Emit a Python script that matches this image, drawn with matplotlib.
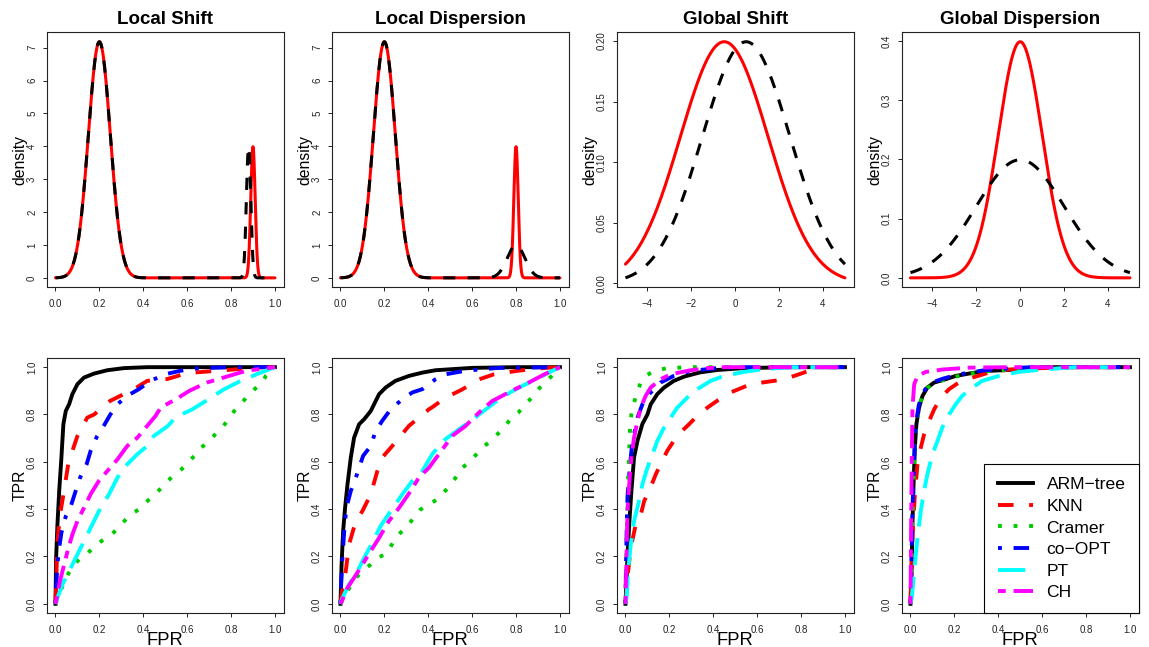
import numpy as np
import matplotlib
matplotlib.use('Agg')
import matplotlib.pyplot as plt

plt.rcParams['font.family'] = ['Liberation Sans', 'DejaVu Sans']

# ---------------- data ----------------
titles = ['Local Shift', 'Local Dispersion', 'Global Shift', 'Global Dispersion']

# top row: gaussian mixtures (weights, means, sds)
dens_xrange = [(0, 1), (0, 1), (-5, 5), (-5, 5)]
ls_w, ls_mu_red, ls_mu_blk, ls_sd_red, ls_sd_blk = [0.9, 0.1], [0.2, 0.9], [0.2, 0.88], [0.05, 0.01], [0.05, 0.01]
ld_w, ld_mu_red, ld_mu_blk, ld_sd_red, ld_sd_blk = [0.9, 0.1], [0.2, 0.8], [0.2, 0.8], [0.05, 0.01], [0.05, 0.04]
gs_w, gs_mu_red, gs_mu_blk, gs_sd_red, gs_sd_blk = [1.0], [-0.5], [0.5], [2.0], [2.0]
gd_w, gd_mu_red, gd_mu_blk, gd_sd_red, gd_sd_blk = [1.0], [0.0], [0.0], [1.0], [2.0]

dens_yticks = [list(range(8)), list(range(8)), [0, 0.05, 0.10, 0.15, 0.20], [0, 0.1, 0.2, 0.3, 0.4]]
dens_xticks = [[0, 0.2, 0.4, 0.6, 0.8, 1.0], [0, 0.2, 0.4, 0.6, 0.8, 1.0], [-4, -2, 0, 2, 4], [-4, -2, 0, 2, 4]]

methods = ['ARM\u2212tree', 'KNN', 'Cramer', 'co\u2212OPT', 'PT', 'CH']

# ROC curves (fpr, tpr)
ls_arm = [(0,0),(0.003,0.195),(0.009,0.336),(0.017,0.477),(0.027,0.618),(0.036,0.759),(0.047,0.815),(0.062,0.843),(0.077,0.886),(0.1,0.928),(0.13,0.956),(0.176,0.973),(0.236,0.987),(0.312,0.996),(0.418,1.0),(1,1)]
ls_knn = [(0,0),(0.003,0.082),(0.009,0.265),(0.021,0.378),(0.039,0.477),(0.058,0.59),(0.077,0.646),(0.1,0.709),(0.145,0.787),(0.176,0.80),(0.25,0.858),(0.357,0.907),(0.418,0.942),(0.51,0.95),(0.6,0.975),(0.81,0.99),(0.95,1.0),(1,1)]
ls_cramer = [(0,0),(0.03,0.07),(0.06,0.13),(0.09,0.17),(0.11,0.19),(0.147,0.214),(0.18,0.245),(0.214,0.268),(0.25,0.29),(0.283,0.316),(0.314,0.35),(0.345,0.38),(0.383,0.4),(0.412,0.43),(0.447,0.454),(0.477,0.485),(0.508,0.515),(0.54,0.545),(0.576,0.57),(0.606,0.6),(0.636,0.628),(0.664,0.66),(0.697,0.685),(0.727,0.715),(0.758,0.743),(0.788,0.779),(0.814,0.814),(0.844,0.842),(0.871,0.874),(0.905,0.905),(0.94,0.934),(0.96,0.965),(1,1)]
ls_coopt = [(0,0),(0.003,0.068),(0.009,0.166),(0.017,0.237),(0.027,0.3),(0.047,0.37),(0.07,0.413),(0.092,0.477),(0.112,0.533),(0.142,0.59),(0.16,0.646),(0.19,0.709),(0.22,0.752),(0.25,0.80),(0.282,0.843),(0.327,0.879),(0.38,0.907),(0.433,0.942),(0.5,0.97),(0.57,0.985),(0.65,0.995),(0.8,1.0),(1,1)]
ls_pt = [(0,0),(0.009,0.025),(0.032,0.082),(0.062,0.138),(0.1,0.209),(0.138,0.279),(0.168,0.336),(0.206,0.406),(0.244,0.463),(0.282,0.533),(0.327,0.59),(0.373,0.632),(0.418,0.667),(0.448,0.709),(0.51,0.75),(0.55,0.79),(0.62,0.82),(0.69,0.86),(0.765,0.905),(0.84,0.94),(0.93,0.975),(1,1)]
ls_ch = [(0,0),(0.006,0.025),(0.017,0.082),(0.032,0.138),(0.055,0.223),(0.077,0.293),(0.1,0.35),(0.13,0.406),(0.16,0.463),(0.198,0.52),(0.236,0.561),(0.282,0.61),(0.327,0.667),(0.373,0.702),(0.418,0.752),(0.456,0.794),(0.48,0.83),(0.55,0.865),(0.61,0.9),(0.69,0.935),(0.78,0.96),(0.87,0.985),(1,1)]

ld_arm = [(0,0),(0.005,0.166),(0.012,0.307),(0.021,0.406),(0.032,0.505),(0.047,0.618),(0.062,0.702),(0.085,0.759),(0.108,0.78),(0.138,0.815),(0.153,0.843),(0.176,0.886),(0.206,0.914),(0.25,0.942),(0.312,0.963),(0.373,0.977),(0.433,0.987),(0.6,0.997),(0.8,1),(1,1)]
ld_knn = [(0,0),(0.003,0.025),(0.012,0.082),(0.024,0.138),(0.039,0.251),(0.07,0.35),(0.1,0.392),(0.138,0.463),(0.168,0.561),(0.19,0.618),(0.236,0.667),(0.312,0.752),(0.403,0.822),(0.417,0.83),(0.477,0.87),(0.553,0.905),(0.63,0.948),(0.7,0.97),(0.81,0.985),(0.93,0.997),(1,1)]
ld_cramer = [(0,0),(0.06,0.1),(0.106,0.144),(0.136,0.165),(0.167,0.193),(0.212,0.214),(0.242,0.264),(0.273,0.3),(0.303,0.327),(0.333,0.362),(0.364,0.398),(0.4,0.42),(0.44,0.44),(0.47,0.47),(0.5,0.5),(0.53,0.54),(0.553,0.574),(0.583,0.595),(0.614,0.626),(0.644,0.659),(0.674,0.68),(0.705,0.708),(0.742,0.74),(0.773,0.779),(0.81,0.807),(0.84,0.842),(0.871,0.87),(0.9,0.905),(0.93,0.934),(0.962,0.962),(1,1)]
ld_coopt = [(0,0),(0.003,0.082),(0.009,0.195),(0.017,0.307),(0.027,0.406),(0.047,0.477),(0.07,0.533),(0.085,0.575),(0.103,0.625),(0.138,0.667),(0.16,0.73),(0.19,0.773),(0.229,0.822),(0.274,0.858),(0.327,0.893),(0.373,0.907),(0.433,0.949),(0.48,0.97),(0.57,0.985),(0.72,0.997),(1,1)]
ld_pt = [(0,0),(0.009,0.025),(0.039,0.082),(0.07,0.124),(0.108,0.195),(0.145,0.258),(0.183,0.329),(0.229,0.392),(0.282,0.463),(0.327,0.519),(0.373,0.561),(0.418,0.632),(0.456,0.674),(0.477,0.695),(0.538,0.736),(0.6,0.778),(0.66,0.82),(0.72,0.863),(0.795,0.905),(0.87,0.94),(0.947,0.976),(1,1)]
ld_ch = [(0,0),(0.006,0.011),(0.032,0.068),(0.062,0.11),(0.1,0.166),(0.138,0.223),(0.176,0.279),(0.221,0.35),(0.267,0.406),(0.32,0.477),(0.357,0.533),(0.403,0.575),(0.448,0.632),(0.51,0.71),(0.568,0.75),(0.63,0.807),(0.69,0.856),(0.78,0.9),(0.856,0.934),(0.93,0.97),(1,1)]

gs_arm = [(0,0),(0.006,0.124),(0.009,0.195),(0.017,0.336),(0.027,0.477),(0.039,0.618),(0.055,0.69),(0.077,0.76),(0.1,0.80),(0.115,0.843),(0.145,0.886),(0.176,0.914),(0.22,0.942),(0.267,0.96),(0.34,0.978),(0.418,0.988),(0.54,0.996),(0.75,1.0),(1,1)]
gs_knn = [(0,0),(0.009,0.11),(0.024,0.237),(0.047,0.336),(0.07,0.378),(0.085,0.434),(0.108,0.477),(0.138,0.547),(0.16,0.59),(0.19,0.646),(0.22,0.688),(0.25,0.724),(0.29,0.759),(0.327,0.794),(0.373,0.829),(0.418,0.858),(0.479,0.893),(0.57,0.928),(0.72,0.948),(0.81,0.976),(0.856,0.993),(0.9,1.0),(1,1)]
gs_cramer = [(0,0),(0.002,0.124),(0.005,0.25),(0.009,0.406),(0.012,0.533),(0.017,0.646),(0.021,0.745),(0.027,0.80),(0.039,0.85),(0.052,0.893),(0.07,0.935),(0.092,0.963),(0.13,0.984),(0.19,0.996),(0.297,1.0),(1,1)]
gs_coopt = [(0,0),(0.003,0.195),(0.006,0.336),(0.009,0.448),(0.017,0.547),(0.027,0.646),(0.039,0.716),(0.055,0.787),(0.077,0.843),(0.1,0.879),(0.13,0.907),(0.16,0.935),(0.22,0.963),(0.297,0.984),(0.418,0.996),(0.5,1.0),(1,1)]
gs_pt = [(0,0),(0.005,0.025),(0.012,0.138),(0.024,0.25),(0.039,0.35),(0.058,0.42),(0.077,0.505),(0.1,0.575),(0.123,0.632),(0.145,0.688),(0.176,0.745),(0.206,0.787),(0.236,0.829),(0.282,0.872),(0.327,0.907),(0.388,0.942),(0.448,0.963),(0.54,0.98),(0.615,0.99),(0.75,1.0),(1,1)]
gs_ch = [(0,0),(0.003,0.124),(0.006,0.25),(0.009,0.39),(0.017,0.505),(0.027,0.618),(0.039,0.702),(0.055,0.773),(0.07,0.83),(0.092,0.879),(0.115,0.914),(0.16,0.949),(0.206,0.97),(0.297,0.987),(0.373,0.996),(0.45,1.0),(1,1)]

gd_arm = [(0,0),(0.005,0.124),(0.009,0.336),(0.014,0.505),(0.02,0.66),(0.027,0.759),(0.039,0.829),(0.055,0.879),(0.077,0.914),(0.108,0.935),(0.16,0.949),(0.206,0.963),(0.267,0.973),(0.342,0.984),(0.5,0.99),(0.6,1.0),(1,1)]
gd_knn = [(0,0),(0.003,0.124),(0.012,0.336),(0.021,0.477),(0.032,0.59),(0.047,0.66),(0.062,0.716),(0.085,0.773),(0.108,0.822),(0.138,0.872),(0.176,0.907),(0.22,0.935),(0.282,0.956),(0.357,0.977),(0.448,0.99),(0.7,1.0),(1,1)]
gd_cramer = [(0,0),(0.005,0.13),(0.009,0.34),(0.014,0.51),(0.02,0.665),(0.027,0.762),(0.039,0.832),(0.055,0.88),(0.077,0.912),(0.108,0.933),(0.16,0.948),(0.206,0.96),(0.267,0.972),(0.342,0.982),(0.45,0.99),(0.6,1.0),(1,1)]
gd_coopt = [(0,0),(0.004,0.15),(0.008,0.35),(0.013,0.52),(0.019,0.67),(0.026,0.77),(0.038,0.84),(0.053,0.885),(0.075,0.918),(0.1,0.936),(0.15,0.952),(0.2,0.965),(0.26,0.976),(0.33,0.986),(0.45,0.995),(0.55,1.0),(1,1)]
gd_pt = [(0,0),(0.006,0.025),(0.017,0.138),(0.032,0.28),(0.047,0.392),(0.062,0.477),(0.077,0.547),(0.1,0.632),(0.123,0.688),(0.145,0.745),(0.176,0.80),(0.206,0.843),(0.236,0.879),(0.282,0.914),(0.327,0.942),(0.403,0.963),(0.494,0.98),(0.6,0.99),(0.75,1.0),(1,1)]
gd_ch = [(0,0),(0.003,0.336),(0.006,0.618),(0.009,0.829),(0.017,0.928),(0.032,0.963),(0.07,0.98),(0.145,0.99),(0.267,0.998),(0.45,1.0),(1,1)]

# ---------------- styles ----------------
# R colours / lty patterns
m_colors = ['black', '#FF0000', '#00CD00', '#0000FF', '#00FFFF', '#FF00FF']
m_dashes = [None, (4, 4), (1, 3), (1, 3, 4, 3), (7, 3), (2, 2, 6, 2)]

W, H = 1149, 647
fig = plt.figure(figsize=(W / 100, H / 100), dpi=100)

col_left = [46.7, 331.7, 616.7, 901.7]
ax_w = 237.0
top_t, top_h = 32.3, 255.0
bot_t, bot_h = 357.7, 255.6


def px_axes(l, t, w, h):
    return fig.add_axes([l / W, 1 - (t + h) / H, w / W, h / H])


def r_lim(lo, hi):
    # R style 4% padding
    d = (hi - lo) * 0.04
    return lo - d, hi + d


def mix_pdf(x, w, mu, sd):
    y = np.zeros_like(x)
    for wi, mi, si in zip(w, mu, sd):
        y += wi * np.exp(-0.5 * ((x - mi) / si) ** 2) / (si * np.sqrt(2 * np.pi))
    return y


def style_axes(ax):
    for s in ax.spines.values():
        s.set_linewidth(0.8)
        s.set_color('#222222')
    ax.tick_params(direction='out', length=2.9, width=0.7, labelsize=7.0, colors='#222222')
    ax.tick_params(axis='x', pad=5.3)
    ax.tick_params(axis='y', pad=4.0, labelrotation=90)
    for lab in ax.get_yticklabels():
        lab.set_va('center')


mix_params = [
    (ls_w, ls_mu_red, ls_mu_blk, ls_sd_red, ls_sd_blk),
    (ld_w, ld_mu_red, ld_mu_blk, ld_sd_red, ld_sd_blk),
    (gs_w, gs_mu_red, gs_mu_blk, gs_sd_red, gs_sd_blk),
    (gd_w, gd_mu_red, gd_mu_blk, gd_sd_red, gd_sd_blk),
]
roc_sets = [
    [ls_arm, ls_knn, ls_cramer, ls_coopt, ls_pt, ls_ch],
    [ld_arm, ld_knn, ld_cramer, ld_coopt, ld_pt, ld_ch],
    [gs_arm, gs_knn, gs_cramer, gs_coopt, gs_pt, gs_ch],
    [gd_arm, gd_knn, gd_cramer, gd_coopt, gd_pt, gd_ch],
]

lw_top = 2.2
lw_bot = 2.8

for i in range(4):
    # density panel
    ax = px_axes(col_left[i], top_t, ax_w, top_h)
    x0, x1 = dens_xrange[i]
    xs = np.linspace(x0, x1, 2001)
    w, mr, mb, sr, sb = mix_params[i]
    y_red = mix_pdf(xs, w, mr, sr)
    y_blk = mix_pdf(xs, w, mb, sb)
    ax.plot(xs, y_red, color='#FF0000', lw=lw_top, solid_capstyle='round')
    ax.plot(xs, y_blk, color='black', lw=lw_top, dashes=(4, 4))
    ax.set_xlim(*r_lim(x0, x1))
    ax.set_ylim(*r_lim(min(y_red.min(), y_blk.min()), max(y_red.max(), y_blk.max())))
    ax.set_xticks(dens_xticks[i])
    ax.set_yticks(dens_yticks[i])
    style_axes(ax)
    cx = col_left[i] + ax_w / 2
    fig.text(cx / W, 1 - 24.5 / H, titles[i], ha='center', va='baseline',
             fontsize=13.5, fontweight='bold')
    lab_x = col_left[i] - 22.4
    fig.text(lab_x / W, 1 - (top_t + top_h / 2) / H, 'density',
             rotation=90, rotation_mode='anchor', ha='center', va='baseline', fontsize=11.3)

    # ROC panel
    ax = px_axes(col_left[i], bot_t, ax_w, bot_h)
    for j, pts in enumerate(roc_sets[i]):
        fx = [p[0] for p in pts]
        ty = [p[1] for p in pts]
        kw = dict(color=m_colors[j], lw=lw_bot, label=methods[j])
        if m_dashes[j] is not None:
            kw['dashes'] = m_dashes[j]
        ax.plot(fx, ty, **kw)
    ax.set_xlim(*r_lim(0, 1))
    ax.set_ylim(*r_lim(0, 1))
    ax.set_xticks([0, 0.2, 0.4, 0.6, 0.8, 1.0])
    ax.set_yticks([0, 0.2, 0.4, 0.6, 0.8, 1.0])
    style_axes(ax)
    fig.text(cx / W, 1 - 645 / H, 'FPR', ha='center', va='baseline', fontsize=13.2)
    fig.text(lab_x / W, 1 - (bot_t + bot_h / 2) / H, 'TPR',
             rotation=90, rotation_mode='anchor', ha='center', va='baseline', fontsize=11.3)

    if i == 3:
        leg = ax.legend(loc='lower right', borderaxespad=0, fancybox=False, framealpha=1,
                        edgecolor='black', fontsize=12.6, handlelength=2.0,
                        handletextpad=0.8, borderpad=0.75, labelspacing=0.36)
        leg.get_frame().set_linewidth(0.8)

fig.savefig('out.png', dpi=100)
